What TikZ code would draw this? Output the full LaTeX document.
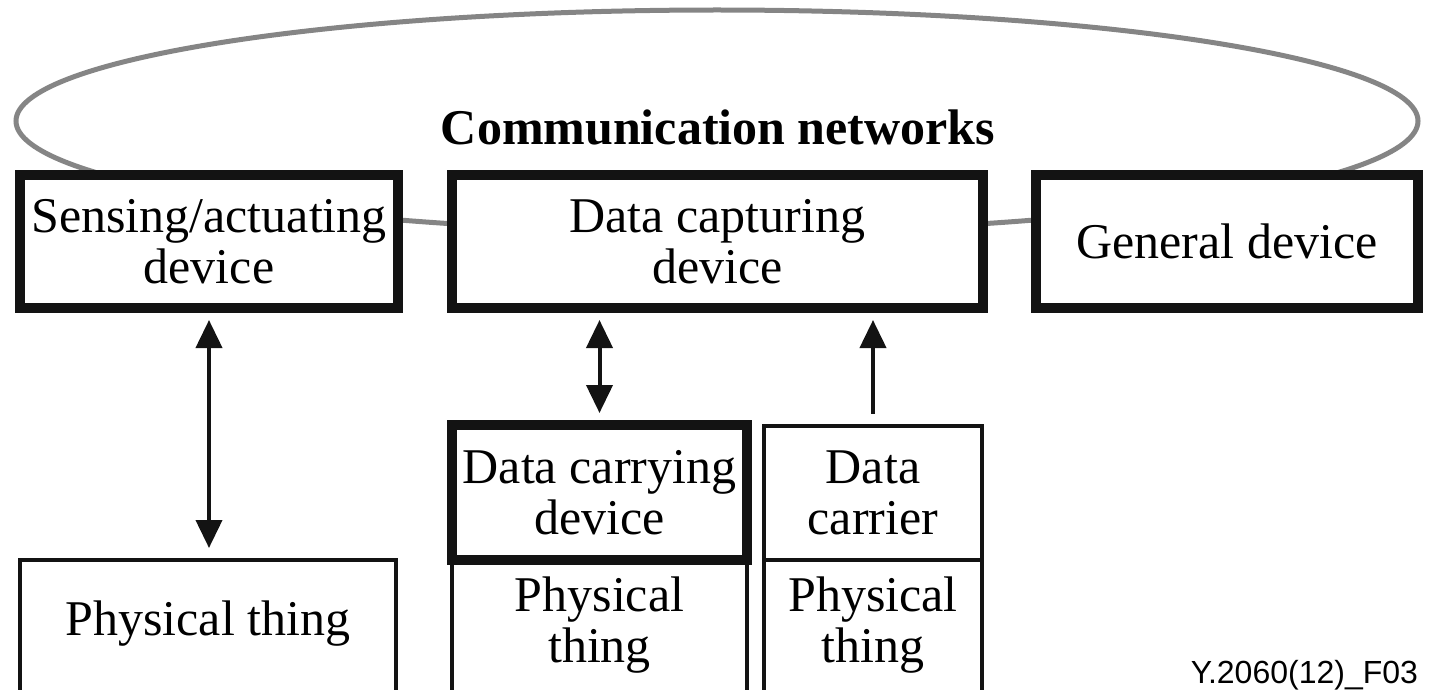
\documentclass[tikz,border=0pt]{standalone}
\usepackage{fontspec}
\setmainfont{Liberation Serif}
\newfontfamily\figidfont{Liberation Sans}
\usetikzlibrary{arrows.meta, positioning}
\definecolor{netgray}{HTML}{858585}
\definecolor{boxblack}{HTML}{131313}
\tikzstyle{thickbox} = [
  rectangle,
  minimum height=66.5pt,
  align=center,
  draw=boxblack,
  line width=5pt,
  inner sep=0,
  outer sep=0,
  fill=white,
  font=\fontsize{25}{25.5}\selectfont
]
\tikzstyle{thinbox} = [
  rectangle,
  align=center,
  draw=boxblack,
  line width=2pt,
  inner sep=0,
  outer sep=0,
  font=\fontsize{25}{25.5}\selectfont
]
\tikzstyle{network} = [
  draw=netgray,
  line width=2.5pt
]
\tikzstyle{arrow} = [
  draw=boxblack,
  line width=2pt,
  -{Triangle[length=14pt,width=13pt]},
  shorten >=6pt,
  shorten <=6pt
]
\tikzstyle{dblarrow} = [
  arrow,
  {Triangle[length=14pt,width=13pt]}-{Triangle[length=14pt,width=13pt]}
]

\begin{document}
\begin{tikzpicture}[x=0.5pt, y=-0.5pt]

    \useasboundingbox (0,0) rectangle (1430,690);
    \clip (0,0) rectangle (1430,690);

    \draw [network] (717,121) ellipse [x radius=701, y radius=111];
    \node (title) [font=\bfseries\fontsize{25}{25.5}\selectfont] at (718,127) {Communication networks};

    \node (sensing) [thickbox, minimum width=189pt] at (209,241.5) {Sensing/actuating\\device};
    \node (capturing) [thickbox, minimum width=265.5pt, right=27pt of sensing] {Data capturing\\device};
    \node (general) [thickbox, minimum width=191pt, right=26.5pt of capturing] {General device};

    \node (carrying) [thickbox, minimum width=147.5pt, minimum height=67.5pt] at (599.5,492.5) {Data carrying\\device};
    \node (carrier) [thinbox, minimum width=109pt, minimum height=67pt, right=8.5pt of carrying] {Data\\carrier};

    \node (leftthing) [thinbox, minimum width=188pt, text height=37.5pt, text depth=80pt, anchor=north] at (208,560) {Physical thing};
    \node (carryingthing) [thinbox, minimum width=147.5pt, text height=51pt, text depth=60pt, below=0pt of carrying] {Physical\\thing};
    \node (carrierthing) [thinbox, minimum width=109pt, text height=51.5pt, text depth=60pt, below=0pt of carrier] {Physical\\thing};

    \node (figid) [font=\figidfont\fontsize{16}{16}\selectfont, anchor=base east] at (1425,683) {Y.2060(12)\_F03};

    \draw [dblarrow] (sensing.south) -- (sensing.south |- leftthing.north);
    \draw [dblarrow] (carrying.north) -- (carrying.north |- capturing.south);
    \draw [arrow] (carrier.north) -- (carrier.north |- capturing.south);

\end{tikzpicture}
\end{document}
